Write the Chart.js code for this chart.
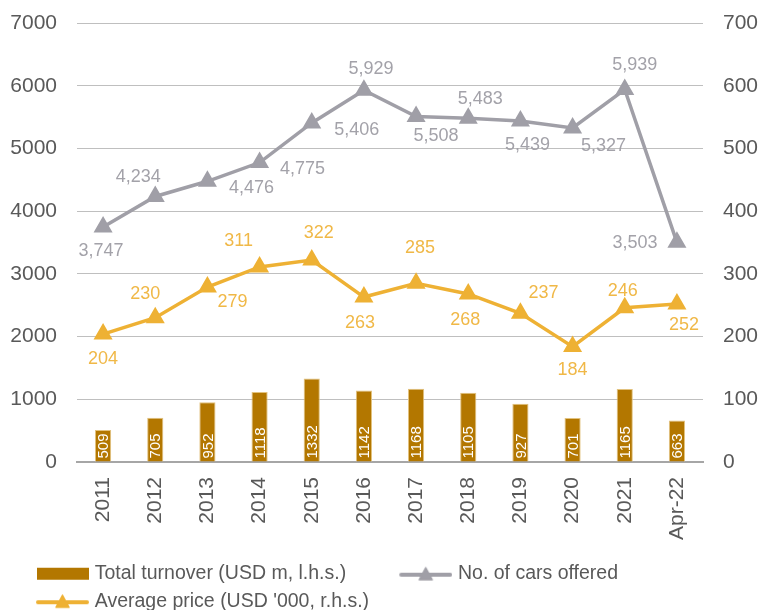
<!DOCTYPE html>
<html>
<head>
<meta charset="utf-8">
<script src="https://cdn.jsdelivr.net/npm/chart.js@4"></script>
<style>
  html, body { margin: 0; padding: 0; background: #fff; }
</style>
</head>
<body>
<canvas id="carChart" width="763" height="610"></canvas>
<script>
// --- Data ---
const categories = ['2011', '2012', '2013', '2014', '2015', '2016', '2017', '2018', '2019', '2020', '2021', 'Apr-22'];
const turnover = [509, 705, 952, 1118, 1332, 1142, 1168, 1105, 927, 701, 1165, 663];
const carsOffered = [3747, 4234, 4476, 4775, 5406, 5929, 5508, 5483, 5439, 5327, 5939, 3503];
const avgPrice = [204, 230, 279, 311, 322, 263, 285, 268, 237, 184, 246, 252];
const leftTicks = [0, 1000, 2000, 3000, 4000, 5000, 6000, 7000];
const rightTicks = [0, 100, 200, 300, 400, 500, 600, 700];

// label nudges (dx, dy) relative to each marker
const carsLabelOffset = [[-2, 24], [-17, -19], [44, 7], [43, 6], [45, 7], [7, -21], [20, 19], [12, -19], [7, 24], [31, 18], [10, -25], [-42, 1]];
const priceLabelOffset = [[0, 25], [-10, -24], [25, 15], [-21, -26], [7, -27], [-4, 26], [4, -35], [-3, 26], [23, -20], [0, 23], [-2, -17], [7, 21]];

const FONT = "'Liberation Sans', Arial, sans-serif";
const BAR = '#b37700';
const GREY = '#a09fa7';
const GOLD = '#eeb134';
const TEXT = '#595959';

// --- Legend icons (drawn in the right part of a wider canvas so they line up) ---
function barIcon() {
    const c = document.createElement('canvas');
    c.width = 75; c.height = 14;
    const g = c.getContext('2d');
    g.fillStyle = BAR;
    g.fillRect(23, 1, 52, 12);
    return c;
}
function lineIcon(color) {
    const c = document.createElement('canvas');
    c.width = 75; c.height = 20;
    const g = c.getContext('2d');
    g.strokeStyle = color;
    g.fillStyle = color;
    g.lineWidth = 4;
    g.lineCap = 'round';
    g.lineJoin = 'round';
    g.beginPath(); g.moveTo(24, 11); g.lineTo(73, 11); g.stroke();
    g.beginPath(); g.moveTo(48.5, 4); g.lineTo(55, 16); g.lineTo(42, 16); g.closePath();
    g.fill(); g.lineWidth = 1.5; g.stroke();
    return c;
}

// --- Value labels ---
const valueLabels = {
    id: 'valueLabels',
    afterDatasetsDraw(chart) {
        const ctx = chart.ctx;
        ctx.save();

        // bar values, rotated inside the bars
        const barMeta = chart.getDatasetMeta(0);
        ctx.font = '15px ' + FONT;
        ctx.fillStyle = '#ffffff';
        ctx.textAlign = 'left';
        ctx.textBaseline = 'middle';
        barMeta.data.forEach((el, i) => {
            ctx.save();
            ctx.translate(el.x + 1, el.base - 3);
            ctx.rotate(-Math.PI / 2);
            ctx.fillText(String(turnover[i]), 0, 0);
            ctx.restore();
        });

        // line values
        ctx.font = '18px ' + FONT;
        ctx.textAlign = 'center';
        const lines = [
            { idx: 1, vals: carsOffered, off: carsLabelOffset, color: '#a3a2a9', fmt: v => v.toLocaleString('en-US') },
            { idx: 2, vals: avgPrice, off: priceLabelOffset, color: '#f0b847', fmt: v => String(v) }
        ];
        lines.forEach(l => {
            ctx.fillStyle = l.color;
            chart.getDatasetMeta(l.idx).data.forEach((pt, i) => {
                ctx.fillText(l.fmt(l.vals[i]), pt.x + l.off[i][0], pt.y + l.off[i][1]);
            });
        });
        ctx.restore();
    }
};

const legendIcons = [barIcon(), lineIcon(GREY), lineIcon(GOLD)];
const legendText = [
    'Total turnover (USD m, l.h.s.)' + '\u00a0'.repeat(5),
    'No. of cars offered',
    "Average price (USD '000, r.h.s.)"
];

const ctx = document.getElementById('carChart').getContext('2d');
const chart = new Chart(ctx, {
    data: {
        labels: categories,
        datasets: [
            {
                type: 'bar',
                label: 'Total turnover (USD m, l.h.s.)',
                data: turnover,
                yAxisID: 'y',
                backgroundColor: BAR,
                borderColor: '#e2c27e',
                borderWidth: 1,
                barPercentage: 0.31,
                categoryPercentage: 1,
                order: 3
            },
            {
                type: 'line',
                label: 'No. of cars offered',
                data: carsOffered,
                yAxisID: 'y',
                borderColor: GREY,
                backgroundColor: GREY,
                borderWidth: 3.5,
                pointStyle: 'triangle',
                pointRadius: 9,
                pointBorderWidth: 2,
                tension: 0,
                order: 1
            },
            {
                type: 'line',
                label: "Average price (USD '000, r.h.s.)",
                data: avgPrice,
                yAxisID: 'y1',
                borderColor: GOLD,
                backgroundColor: GOLD,
                borderWidth: 3.5,
                pointStyle: 'triangle',
                pointRadius: 9,
                pointBorderWidth: 2,
                tension: 0,
                order: 2
            }
        ]
    },
    options: {
        responsive: false,
        animation: false,
        layout: { padding: { left: 10, right: 4, top: 23, bottom: -11 } },
        plugins: {
            tooltip: { enabled: false },
            legend: {
                position: 'bottom',
                align: 'start',
                labels: {
                    font: { family: FONT, size: 19.5 },
                    color: TEXT,
                    usePointStyle: true,
                    pointStyleWidth: 67,
                    padding: 8,
                    generateLabels: () => legendText.map((t, i) => ({
                        text: t,
                        pointStyle: legendIcons[i],
                        fontColor: TEXT,
                        lineWidth: 0,
                        datasetIndex: i
                    }))
                }
            }
        },
        scales: {
            x: {
                grid: { display: false },
                border: { color: '#a6a6a6', width: 2 },
                ticks: {
                    color: TEXT,
                    font: { family: FONT, size: 21 },
                    minRotation: 90,
                    maxRotation: 90,
                    padding: 7
                },
                afterFit: s => { s.height = 94; }
            },
            y: {
                position: 'left',
                min: 0,
                max: 7000,
                afterBuildTicks: s => { s.ticks = leftTicks.map(v => ({ value: v })); },
                // invisible tick marks give the gap between labels and plot
                grid: { color: '#bfbfbf', lineWidth: 1, drawTicks: true, tickLength: 20, tickColor: 'rgba(0,0,0,0)' },
                border: { display: false },
                ticks: { color: TEXT, font: { family: FONT, size: 21 }, padding: 0, callback: v => String(v) },
                afterFit: s => { s.width = 67; }
            },
            y1: {
                position: 'right',
                min: 0,
                max: 700,
                afterBuildTicks: s => { s.ticks = rightTicks.map(v => ({ value: v })); },
                grid: { drawOnChartArea: false, drawTicks: true, tickLength: 20, tickColor: 'rgba(0,0,0,0)' },
                border: { display: false },
                ticks: { color: TEXT, font: { family: FONT, size: 21 }, padding: 0, callback: v => String(v) },
                afterFit: s => { s.width = 56; }
            }
        }
    },
    plugins: [valueLabels]
});
</script>
</body>
</html>
